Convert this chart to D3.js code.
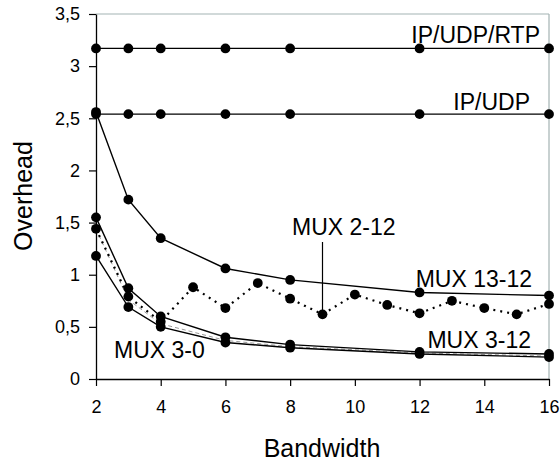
<!DOCTYPE html>
<html>
<head>
<meta charset="utf-8">
<script src="https://cdn.jsdelivr.net/npm/d3@7"></script>
<style>
  body { margin: 0; background: #fff; }
  svg text { font-family: "Liberation Sans", Arial, sans-serif; fill: #000; }
</style>
</head>
<body>
<div id="chart"></div>
<script>
// data
var bwCoarse = [2, 3, 4, 6, 8, 12, 16];
var bwFine = [2, 3, 4, 5, 6, 7, 8, 9, 10, 11, 12, 13, 14, 15, 16];

var ipUdpRtp = [3.17, 3.17, 3.17, 3.17, 3.17, 3.17, 3.17];
var ipUdp = [2.54, 2.54, 2.54, 2.54, 2.54, 2.54, 2.54];
var mux13_12 = [2.56, 1.72, 1.35, 1.06, 0.95, 0.83, 0.80];
var mux3_12 = [1.55, 0.87, 0.60, 0.40, 0.33, 0.26, 0.24];
var muxGray = [1.44, 0.76, 0.53, 0.37, 0.31, 0.25, 0.22];
var mux3_0 = [1.18, 0.69, 0.50, 0.35, 0.30, 0.24, 0.21];
var mux2_12 = [1.44, 0.79, 0.55, 0.88, 0.68, 0.92, 0.77, 0.62, 0.81, 0.71, 0.63, 0.75, 0.68, 0.62, 0.72];

var yTicks = [0, 0.5, 1, 1.5, 2, 2.5, 3, 3.5];
var xTicks = [2, 4, 6, 8, 10, 12, 14, 16];

var width = 560, height = 464;
var margin = {top: 14, right: 11, bottom: 85, left: 96};

var svg = d3.select("#chart").append("svg")
    .attr("width", width)
    .attr("height", height);

var x = d3.scaleLinear().domain([2, 16]).range([margin.left, width - margin.right]);
var y = d3.scaleLinear().domain([0, 3.5]).range([height - margin.bottom, margin.top]);

var fmt = function (d) { return String(d).replace(".", ","); };

// frame (top and right in light gray)
svg.append("line")
    .attr("x1", x(2)).attr("x2", x(16))
    .attr("y1", y(3.5)).attr("y2", y(3.5))
    .attr("stroke", "#a3b3b3").attr("stroke-width", 1.2);
svg.append("line")
    .attr("x1", x(16)).attr("x2", x(16))
    .attr("y1", y(3.5)).attr("y2", y(0))
    .attr("stroke", "#a3b3b3").attr("stroke-width", 1.2);

// axes
var yAxis = svg.append("g")
    .attr("transform", "translate(" + x(2) + ",0)")
    .call(d3.axisLeft(y).tickValues(yTicks).tickFormat(fmt).tickSize(7).tickPadding(9).tickSizeOuter(0));
var xAxis = svg.append("g")
    .attr("transform", "translate(0," + y(0) + ")")
    .call(d3.axisBottom(x).tickValues(xTicks).tickSize(7).tickPadding(14).tickSizeOuter(0));

[yAxis, xAxis].forEach(function (g) {
    g.select(".domain").attr("stroke", "#000").attr("stroke-width", 1.3);
    g.selectAll(".tick line").attr("stroke", "#000").attr("stroke-width", 1.2);
    g.selectAll("text").style("font-size", "18px")
        .style("font-family", "'Liberation Sans', Arial, sans-serif");
});

// axis titles
svg.append("text")
    .attr("x", 322).attr("y", 457)
    .attr("text-anchor", "middle")
    .style("font-size", "25px")
    .text("Bandwidth");
svg.append("text")
    .attr("transform", "translate(32,196) rotate(-90)")
    .attr("text-anchor", "middle")
    .style("font-size", "25px")
    .text("Overhead");

var line = d3.line()
    .x(function (d) { return x(d[0]); })
    .y(function (d) { return y(d[1]); });

function zipped(xs, ys) {
    return xs.map(function (v, i) { return [v, ys[i]]; });
}

function drawSeries(xs, ys, style) {
    var pts = zipped(xs, ys);
    svg.append("path")
        .datum(pts)
        .attr("fill", "none")
        .attr("stroke", style.color || "#000")
        .attr("stroke-width", style.width || 1.4)
        .attr("stroke-dasharray", style.dash || null)
        .attr("d", line);
    if (style.dots !== false) {
        svg.append("g").selectAll("circle")
            .data(pts)
            .enter().append("circle")
            .attr("cx", function (d) { return x(d[0]); })
            .attr("cy", function (d) { return y(d[1]); })
            .attr("r", 4.9)
            .attr("fill", "#000");
    }
}

drawSeries(bwCoarse, muxGray, {color: "#999", width: 1, dash: "4,3", dots: false});
drawSeries(bwFine, mux2_12, {width: 2.2, dash: "2,5"});
drawSeries(bwCoarse, mux3_0, {});
drawSeries(bwCoarse, mux3_12, {});
drawSeries(bwCoarse, mux13_12, {});
drawSeries(bwCoarse, ipUdp, {});
drawSeries(bwCoarse, ipUdpRtp, {});

// leader line for MUX 2-12
svg.append("line")
    .attr("x1", x(9)).attr("x2", x(9))
    .attr("y1", 242).attr("y2", y(mux2_12[7]))
    .attr("stroke", "#000").attr("stroke-width", 1.2);

// series labels
var labels = [
    {t: "IP/UDP/RTP", x: 540, y: 43, a: "end"},
    {t: "IP/UDP", x: 530, y: 110, a: "end"},
    {t: "MUX 2-12", x: 292, y: 235, a: "start"},
    {t: "MUX 13-12", x: 532, y: 287, a: "end"},
    {t: "MUX 3-12", x: 531, y: 348, a: "end"},
    {t: "MUX 3-0", x: 114, y: 358, a: "start"}
];
svg.append("g").selectAll("text")
    .data(labels)
    .enter().append("text")
    .attr("x", function (d) { return d.x; })
    .attr("y", function (d) { return d.y; })
    .attr("text-anchor", function (d) { return d.a; })
    .style("font-size", "23px")
    .text(function (d) { return d.t; });
</script>
</body>
</html>
